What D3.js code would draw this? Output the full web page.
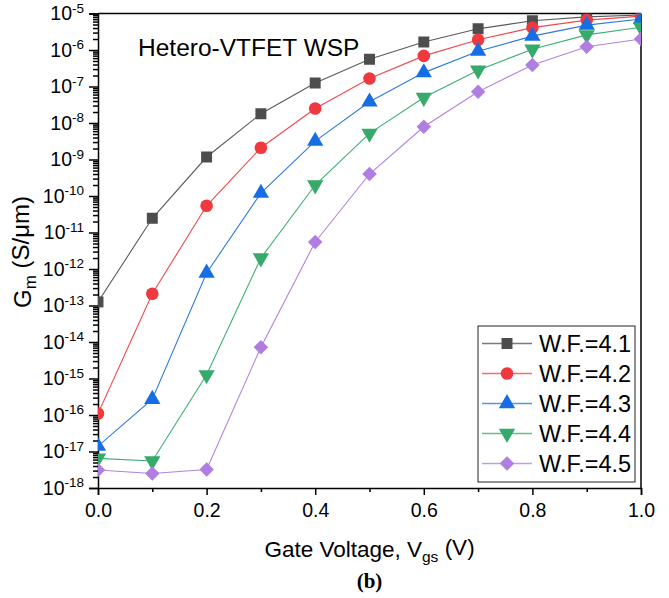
<!DOCTYPE html>
<html>
<head>
<meta charset="utf-8">
<script src="https://cdn.jsdelivr.net/npm/d3@7"></script>
<style>
  body { margin: 0; background: #fff; }
  svg { font-family: "Liberation Sans", Arial, sans-serif; }
</style>
</head>
<body>
<svg id="chart" width="669" height="598"></svg>
<script>
// gate voltage values (V)
var vgs = [0.0, 0.1, 0.2, 0.3, 0.4, 0.5, 0.6, 0.7, 0.8, 0.9, 1.0];

// Gm (S/um), one array per work function
var wf41 = [1.25e-13, 2.45e-11, 1.17e-9, 1.8e-8, 1.25e-7, 5.6e-7, 1.65e-6, 3.8e-6, 6.3e-6, 8.1e-6, 9.1e-6];
var wf42 = [1.1e-16, 2.1e-13, 5.4e-11, 2.1e-9, 2.5e-8, 1.65e-7, 6.9e-7, 1.9e-6, 4.1e-6, 6.6e-6, 8.5e-6];
var wf43 = [1.4e-17, 2.7e-16, 7.8e-13, 1.2e-10, 3.2e-9, 3.8e-8, 2.4e-7, 9.3e-7, 2.4e-6, 4.8e-6, 7.1e-6];
var wf44 = [6.5e-18, 5.5e-18, 1.26e-15, 2.0e-12, 2.0e-10, 5.2e-9, 5.0e-8, 2.8e-7, 1.05e-6, 2.6e-6, 4.2e-6];
var wf45 = [3.1e-18, 2.5e-18, 3.2e-18, 7.2e-15, 5.5e-12, 4.0e-10, 7.9e-9, 7.2e-8, 3.9e-7, 1.23e-6, 2.0e-6];

var seriesNames = ["W.F.=4.1", "W.F.=4.2", "W.F.=4.3", "W.F.=4.4", "W.F.=4.5"];
var yDecades = [-18, -17, -16, -15, -14, -13, -12, -11, -10, -9, -8, -7, -6, -5];
var xTicks = [0.0, 0.2, 0.4, 0.6, 0.8, 1.0];

var series = [
  {name: seriesNames[0], values: wf41, fill: "#4d4d4d", line: "#5a5a5a", shape: "square"},
  {name: seriesNames[1], values: wf42, fill: "#f0393f", line: "#f04a4e", shape: "circle"},
  {name: seriesNames[2], values: wf43, fill: "#176de3", line: "#2f7ae0", shape: "up"},
  {name: seriesNames[3], values: wf44, fill: "#35aa6a", line: "#3daf72", shape: "down"},
  {name: seriesNames[4], values: wf45, fill: "#b07de0", line: "#b283df", shape: "diamond"}
];

var margin = {top: 13.5, right: 28, bottom: 110, left: 98},
    width = 641 - margin.left,
    height = 488 - margin.top;

var svg = d3.select("#chart");
var g = svg.append("g")
    .attr("transform", "translate(" + margin.left + "," + margin.top + ")");

var x = d3.scaleLinear().domain([0, 1]).range([0, width]);
var y = d3.scaleLog().domain([1e-18, 1e-5]).range([height, 0]);

// clip markers to the frame like the original
svg.append("defs").append("clipPath").attr("id", "plotclip")
  .append("rect").attr("width", width).attr("height", height);

// minor y ticks
var minorY = [];
yDecades.slice(0, -1).forEach(function(e) {
  for (var k = 2; k <= 9; k++) minorY.push(k * Math.pow(10, e));
});
g.append("g")
    .call(d3.axisLeft(y).tickValues(minorY).tickSize(5).tickFormat(""))
    .call(function(a) { a.select(".domain").remove(); });

// major y ticks with superscript labels
var yAxis = g.append("g")
    .call(d3.axisLeft(y).tickValues(yDecades.map(function(e) { return Math.pow(10, e); }))
      .tickSize(9).tickPadding(5).tickFormat(""));
yAxis.selectAll(".tick").each(function(d) {
  var t = d3.select(this).append("text")
      .attr("x", -14).attr("dy", "0.32em")
      .attr("text-anchor", "end").attr("fill", "#000")
      .style("font-size", "19.5px");
  t.append("tspan").text("10");
  t.append("tspan").attr("dy", "-0.55em").style("font-size", "13.5px")
    .text("-" + Math.round(-Math.log10(d)));
});

// x axis: minor then major ticks
g.append("g")
    .attr("transform", "translate(0," + height + ")")
    .call(d3.axisBottom(x).tickValues([0.1, 0.3, 0.5, 0.7, 0.9]).tickSize(4).tickFormat(""))
    .call(function(a) { a.select(".domain").remove(); });
g.append("g")
    .attr("transform", "translate(0," + height + ")")
    .call(d3.axisBottom(x).tickValues(xTicks).tickSize(7).tickPadding(8).tickFormat(d3.format(".1f")))
    .selectAll("text")
      .style("font-size", "19.5px")
      .attr("fill", "#000");

svg.selectAll(".domain, .tick line").attr("stroke", "#000").attr("stroke-width", 1.5);

// top and right frame
g.append("line").attr("x1", 0).attr("x2", width).attr("y1", 0).attr("y2", 0)
    .attr("stroke", "#000").attr("stroke-width", 1.5);
g.append("line").attr("x1", width).attr("x2", width).attr("y1", 0).attr("y2", height)
    .attr("stroke", "#000").attr("stroke-width", 1.5);

function symbolPath(shape) {
  if (shape === "square") return d3.symbol().type(d3.symbolSquare).size(120)();
  if (shape === "circle") return d3.symbol().type(d3.symbolCircle).size(125)();
  if (shape === "diamond") return d3.symbol().type(d3.symbolSquare).size(105)();
  return d3.symbol().type(d3.symbolTriangle).size(115)();
}
function symbolRot(shape) {
  if (shape === "down") return 180;
  if (shape === "diamond") return 45;
  return 0;
}

var plot = g.append("g").attr("clip-path", "url(#plotclip)");
var line = d3.line()
    .x(function(d, i) { return x(vgs[i]); })
    .y(function(d) { return y(d); });

series.forEach(function(s) {
  plot.append("path")
      .datum(s.values)
      .attr("d", line)
      .attr("fill", "none")
      .attr("stroke", s.line)
      .attr("stroke-width", 1.1);
  plot.selectAll(null)
      .data(s.values)
      .enter()
      .append("path")
        .attr("d", symbolPath(s.shape))
        .attr("transform", function(d, i) {
          return "translate(" + x(vgs[i]) + "," + y(d) + ") rotate(" + symbolRot(s.shape) + ")";
        })
        .attr("fill", s.fill);
});

// legend
var legend = g.append("g").attr("transform", "translate(" + (478 - margin.left) + "," + (326 - margin.top) + ")");
legend.append("rect")
    .attr("width", 157).attr("height", 156)
    .attr("fill", "#fff").attr("stroke", "#222").attr("stroke-width", 1);
series.forEach(function(s, i) {
  var row = legend.append("g").attr("transform", "translate(0," + (17.5 + i * 30) + ")");
  row.append("line").attr("x1", 4).attr("x2", 54).attr("y1", 0).attr("y2", 0)
      .attr("stroke", s.line).attr("stroke-width", 1.3).attr("opacity", 0.8);
  row.append("path").attr("d", symbolPath(s.shape))
      .attr("transform", "translate(29,0) rotate(" + symbolRot(s.shape) + ")")
      .attr("fill", s.fill);
  row.append("text").attr("x", 61).attr("dy", "0.36em")
      .style("font-size", "23.5px").attr("fill", "#000")
      .text(s.name);
});

// annotation
g.append("text").attr("x", 138 - margin.left).attr("y", 56 - margin.top)
    .style("font-size", "24.5px").attr("fill", "#000")
    .text("Hetero-VTFET WSP");

// x axis title
var xt = svg.append("text")
    .attr("x", margin.left + width / 2).attr("y", 557)
    .attr("text-anchor", "middle").style("font-size", "22.5px").attr("fill", "#000");
xt.append("tspan").text("Gate Voltage, V");
xt.append("tspan").attr("dy", "0.3em").style("font-size", "15.5px").text("gs");
xt.append("tspan").attr("dy", "-0.3em").text(" (V)");

// y axis title
var yt = svg.append("text")
    .attr("transform", "translate(31," + 252 + ") rotate(-90)")
    .attr("text-anchor", "middle").style("font-size", "24px").attr("fill", "#000");
yt.append("tspan").text("G");
yt.append("tspan").attr("dy", "0.3em").style("font-size", "17px").text("m");
yt.append("tspan").attr("dy", "-0.3em").text(" (S/\u03bcm)");

// panel label
svg.append("text")
    .attr("x", margin.left + width / 2).attr("y", 588)
    .attr("text-anchor", "middle")
    .style("font-family", "'Liberation Serif', 'Times New Roman', serif")
    .style("font-size", "21px").style("font-weight", "bold").attr("fill", "#000")
    .text("(b)");
</script>
</body>
</html>
